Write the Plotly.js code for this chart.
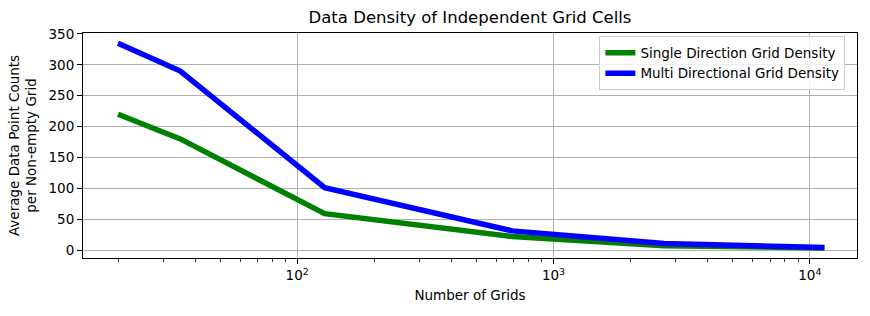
<!DOCTYPE html>
<html>
<head>
<meta charset="utf-8">
<script src="https://cdn.plot.ly/plotly-3.0.1.min.js"></script>
<style>html,body{margin:0;padding:0;background:#fff;}#chart{width:870px;height:316px;}</style>
</head>
<body>
<div id="chart"></div>
<script>
const numGrids = [20, 35, 128, 690, 2700, 11400];
const singleDensity = [220, 180, 59, 22, 7, 3.5];
const multiDensity = [335, 290, 101, 31, 10.5, 4.3];
const seriesNames = ["Single Direction Grid Density", "Multi Directional Grid Density"];
const xTickVals = [100, 1000, 10000];
const xTickText = ["10<sup>2</sup>", "10<sup>3</sup>", "10<sup>4</sup>"];
const xMinorTickVals = [20, 30, 40, 50, 60, 70, 80, 90,
  200, 300, 400, 500, 600, 700, 800, 900,
  2000, 3000, 4000, 5000, 6000, 7000, 8000, 9000];
const yTickVals = [0, 50, 100, 150, 200, 250, 300, 350];

const font = {family: "DejaVu Sans", size: 13.5, color: "#000"};

const traces = [
  {x: numGrids, y: singleDensity, name: seriesNames[0], mode: "lines",
   line: {color: "green", width: 5.5}},
  {x: numGrids, y: multiDensity, name: seriesNames[1], mode: "lines",
   line: {color: "blue", width: 5.5}}
];

const layout = {
  width: 870, height: 316,
  margin: {l: 82.5, r: 13, t: 32.7, b: 58},
  paper_bgcolor: "#fff", plot_bgcolor: "#fff",
  font: font,
  showlegend: true,
  title: {text: "Data Density of Independent Grid Cells", font: {family: "DejaVu Sans", size: 16.5, color: "#000"},
          x: 0.5, xanchor: "center", y: 0.945, yanchor: "middle", xref: "paper"},
  xaxis: {
    type: "log", range: [1.1645, 4.184],
    tickvals: xTickVals, ticktext: xTickText,
    ticks: "outside", ticklen: 5, tickcolor: "#000", tickwidth: 1,
    showline: true, mirror: true, linecolor: "#000", linewidth: 1,
    showgrid: true, gridcolor: "#b0b0b0", gridwidth: 1,
    zeroline: false,
    minor: {tickmode: "array", tickvals: xMinorTickVals, ticks: "outside", ticklen: 3, tickcolor: "#000", tickwidth: 0.8, showgrid: false},
    tickfont: font,
    title: {text: "Number of Grids", font: font, standoff: 8}
  },
  yaxis: {
    range: [-12.9, 351.6],
    tickvals: yTickVals,
    ticks: "outside", ticklen: 5, tickcolor: "#000", tickwidth: 1,
    showline: true, mirror: true, linecolor: "#000", linewidth: 1,
    showgrid: true, gridcolor: "#b0b0b0", gridwidth: 1,
    zeroline: false,
    tickfont: font,
    title: {text: "Average Data Point Counts<br>per Non-empty Grid", font: font, standoff: 8}
  },
  legend: {
    x: 0.985, xanchor: "right", y: 0.985, yanchor: "top",
    bgcolor: "rgba(255,255,255,0.8)", bordercolor: "#cccccc", borderwidth: 1,
    font: font, tracegroupgap: 0
  }
};

Plotly.newPlot("chart", traces, layout, {displayModeBar: false, staticPlot: true});
</script>
</body>
</html>
